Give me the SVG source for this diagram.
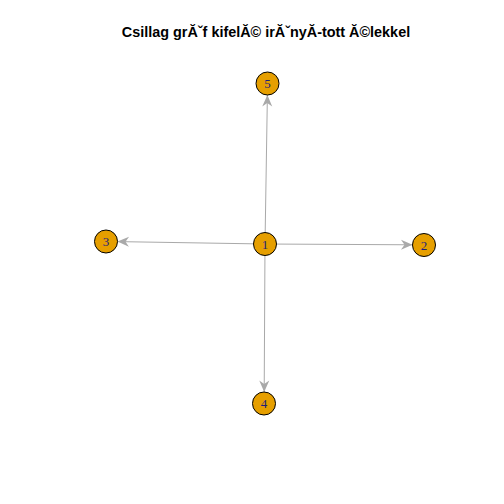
<svg xmlns="http://www.w3.org/2000/svg" width="504" height="504" viewBox="0 0 504 504">
<style>
.edge{stroke:#A9A9A9;stroke-width:1;fill:none;marker-end:url(#arr)}
.node circle{fill:#E69F00;stroke:#000;stroke-width:1}
.node text{font-family:"Liberation Serif",serif;font-size:13px;fill:#1f1f7a;text-anchor:middle;dominant-baseline:central}
.title{font-family:"Liberation Sans",Arial,sans-serif;font-size:14.4px;font-weight:bold;text-anchor:middle}
</style>
<defs>
<marker id="arr" markerUnits="userSpaceOnUse" markerWidth="14" markerHeight="12" refX="12.5" refY="6" orient="auto" viewBox="0 0 14 12">
<path d="M12.5,6 L1,1 L4.5,6 L1,11 Z" fill="#A9A9A9"/>
</marker>
</defs>
<rect width="504" height="504" fill="#fff"/>
<text class="title" x="266" y="37">Csillag grĂˇf kifelĂ© irĂˇnyĂ-tott Ă©lekkel</text>
<g id="connectors">
<line class="edge" x1="265" y1="244" x2="267.4" y2="95"/>
<line class="edge" x1="265" y1="244" x2="117.5" y2="241.6"/>
<line class="edge" x1="265" y1="244" x2="412.5" y2="244.8"/>
<line class="edge" x1="265" y1="244" x2="264.2" y2="392"/>
</g>
<g id="node1" class="node"><circle cx="265" cy="244" r="11.5"/><text x="265" y="244">1</text></g>
<g id="node2" class="node"><circle cx="424" cy="245" r="11.5"/><text x="424" y="245">2</text></g>
<g id="node3" class="node"><circle cx="106" cy="241.5" r="11.5"/><text x="106" y="241.5">3</text></g>
<g id="node4" class="node"><circle cx="264" cy="403.5" r="11.5"/><text x="264" y="403.5">4</text></g>
<g id="node5" class="node"><circle cx="267.5" cy="83.5" r="11.5"/><text x="267.5" y="83.5">5</text></g>
</svg>
